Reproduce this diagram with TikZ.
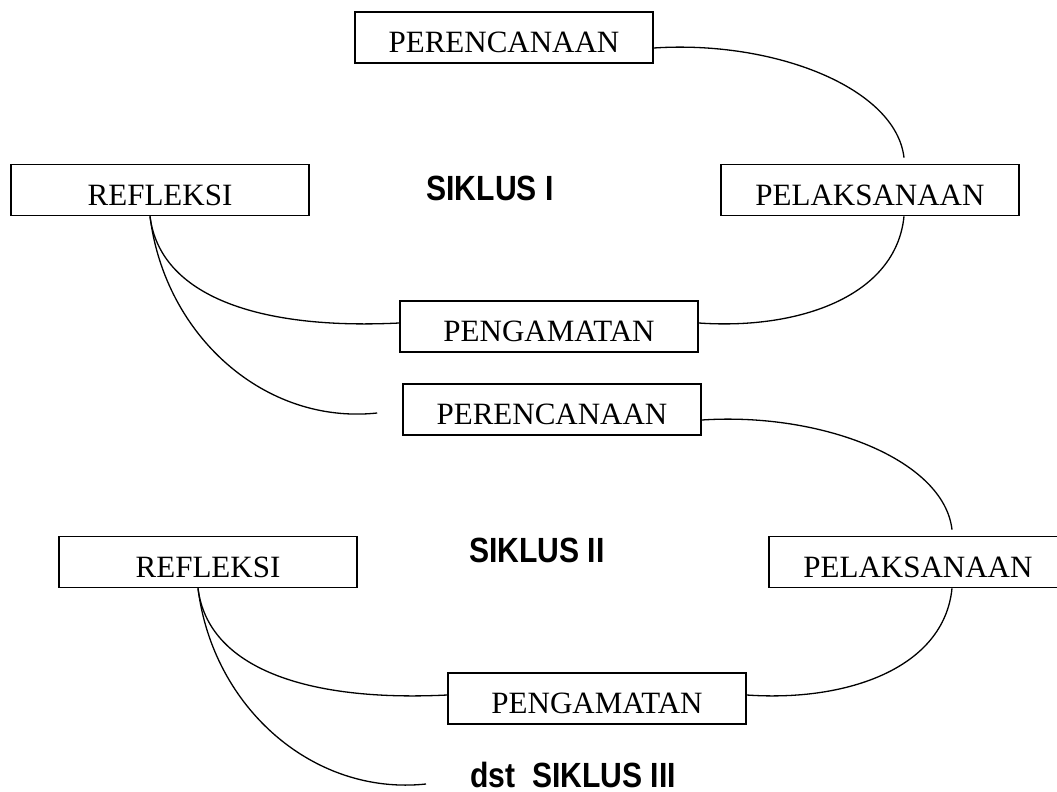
\documentclass[tikz,border=0pt]{standalone}
\usepackage{fontspec}
\setmainfont{Liberation Serif}
\newfontfamily\sanb{Liberation Sans}
\usepackage{graphicx}
\begin{document}
\begin{tikzpicture}[x=1pt,y=-1pt,
  stagebox/.style={draw, line width=1.6pt, minimum width=298pt, minimum height=51pt,
    inner sep=0pt, text height=30pt, text depth=0pt, font=\fontsize{31}{36}\selectfont},
  cyclelbl/.style={inner sep=0pt, anchor=base, font=\sanb\bfseries\fontsize{35}{40}\selectfont},
  link/.style={line width=1.3pt}]
\useasboundingbox (0,0) rectangle (1057,792);
\clip (0,0) rectangle (1057,792);
% cycle I
\node[stagebox] (per1)  at (504,37.5)  {PERENCANAAN};
\node[stagebox] (ref1)  at (160,190)   {REFLEKSI};
\node[stagebox] (pel1)  at (870,190)   {PELAKSANAAN};
\node[stagebox] (peng1) at (549,326.5) {PENGAMATAN};
\node[cyclelbl] (s1) at (490,200) {\scalebox{0.86}[1]{SIKLUS I}};
% cycle II
\node[stagebox] (per2)  at (552,409.5) {PERENCANAAN};
\node[stagebox] (ref2)  at (208,562)   {REFLEKSI};
\node[stagebox] (pel2)  at (918,562)   {PELAKSANAAN};
\node[stagebox] (peng2) at (597,698.5) {PENGAMATAN};
\node[cyclelbl] (s2) at (537,562) {\scalebox{0.86}[1]{SIKLUS II}};
\node[cyclelbl] (s3) at (573,787) {\scalebox{0.86}[1]{dst\ \ SIKLUS III}};
% free ends
\coordinate (d1end) at ([xshift=-25pt,yshift=-3.5pt]per2.west);
\coordinate (d2end) at (426,784);
% connectors cycle I
\draw[link] ([yshift=-10.5pt]per1.east) .. controls +(120,-8) and +(-8,-70) .. ([xshift=34pt,yshift=6pt]pel1.north);
\draw[link] ([xshift=34pt]pel1.south) .. controls +(-8,80) and +(100,7) .. ([yshift=3.5pt]peng1.east);
\draw[link] ([xshift=-10pt]ref1.south) .. controls +(10,80) and +(-140,7) .. ([yshift=3.5pt]peng1.west);
\draw[link] ([xshift=-10pt]ref1.south) .. controls +(15,120) and +(-112,12) .. (d1end);
% connectors cycle II
\draw[link] ([yshift=-10.5pt]per2.east) .. controls +(120,-8) and +(-8,-70) .. ([xshift=34pt,yshift=6pt]pel2.north);
\draw[link] ([xshift=34pt]pel2.south) .. controls +(-8,80) and +(100,7) .. ([yshift=3.5pt]peng2.east);
\draw[link] ([xshift=-10pt]ref2.south) .. controls +(10,80) and +(-140,7) .. ([yshift=3.5pt]peng2.west);
\draw[link] ([xshift=-10pt]ref2.south) .. controls +(15,120) and +(-112,12) .. (d2end);
\end{tikzpicture}
\end{document}
